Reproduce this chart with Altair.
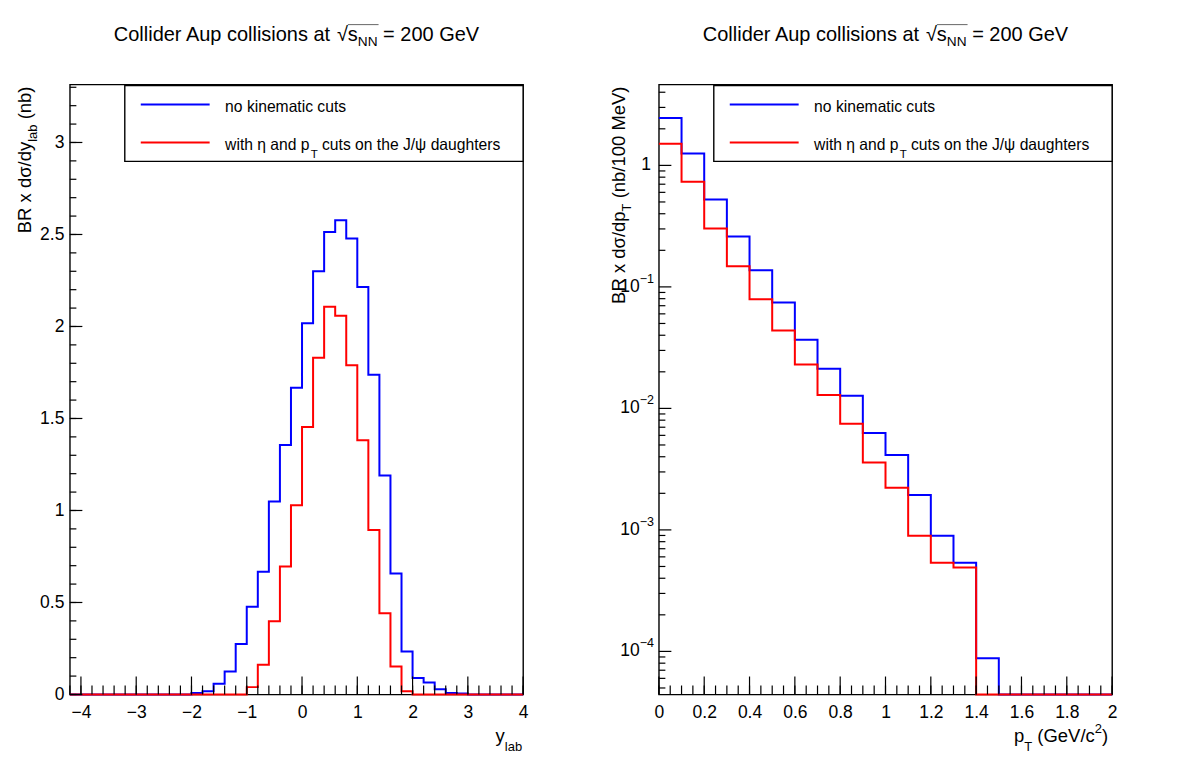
import numpy as np
import pandas as pd
import altair as alt

FONT = "Liberation Sans"
BLUE = "#0000ff"
RED = "#ff0000"

# plot-area size of each panel (pixels)
W, H = 454, 611

# ---------------------------------------------------------------
# J/psi rapidity spectrum: 41 bins of width 0.2 from -4.2 to 4.0
# ---------------------------------------------------------------
Y_LOW, Y_BIN = -4.2, 0.2
dsig_dy_all = [
    0, 0, 0, 0, 0, 0, 0, 0, 0, 0, 0,
    0.008, 0.018, 0.058, 0.125, 0.275, 0.477, 0.667, 1.049, 1.356, 1.667,
    2.017, 2.300, 2.514, 2.577, 2.478, 2.215, 1.738, 1.190, 0.658, 0.233,
    0.089, 0.065, 0.029, 0.008, 0.006, 0, 0, 0, 0, 0,
]
dsig_dy_cut = [
    0, 0, 0, 0, 0, 0, 0, 0, 0, 0, 0,
    0, 0, 0, 0, 0, 0.040, 0.161, 0.398, 0.695, 1.029,
    1.454, 1.830, 2.107, 2.058, 1.789, 1.382, 0.894, 0.441, 0.152, 0.018,
    0, 0, 0, 0, 0, 0, 0, 0, 0, 0,
]

# ---------------------------------------------------------------
# J/psi pT spectrum: 20 bins of width 0.1 from 0 to 2 GeV/c
# ---------------------------------------------------------------
PT_LOW, PT_BIN = 0.0, 0.1
dsig_dpt_all = [
    2.45, 1.25, 0.523, 0.260, 0.137, 0.0744, 0.0368, 0.0212, 0.0127, 0.00628,
    0.00414, 0.00194, 0.000893, 0.000537, 0.0000877, 0, 0, 0, 0, 0,
]
dsig_dpt_cut = [
    1.51, 0.735, 0.303, 0.148, 0.0792, 0.0438, 0.0230, 0.0129, 0.00748, 0.00358,
    0.00222, 0.000893, 0.000537, 0.000491, 0, 0, 0, 0, 0, 0,
]

# axis ranges and tick marks
Y_DOMAIN_X, Y_DOMAIN_Y = [-4.2, 4.0], [0, 3.315]
PT_DOMAIN_X, PT_DOMAIN_Y = [0, 2], [4.42e-5, 4.63]
y_major_x = [-4, -3, -2, -1, 0, 1, 2, 3, 4]
y_minor_x = [round(-4.2 + 0.2 * i, 2) for i in range(42)]
y_major_y = [0, 0.5, 1, 1.5, 2, 2.5, 3]
y_minor_y = [round(0.1 * i, 2) for i in range(34)]
pt_major_x = [0, 0.2, 0.4, 0.6, 0.8, 1, 1.2, 1.4, 1.6, 1.8, 2]
pt_minor_x = [round(0.05 * i, 2) for i in range(41)]
pt_decades = [1e-4, 1e-3, 1e-2, 1e-1, 1]
pt_decade_exp = ["−4", "−3", "−2", "−1"]
pt_minor_y = [m * 10.0 ** e for e in range(-5, 1) for m in range(2, 10)
              if PT_DOMAIN_Y[0] <= m * 10.0 ** e <= PT_DOMAIN_Y[1]]

LEGEND = ["no kinematic cuts", "with η and p", "T", " cuts on the J/ψ daughters"]

# approximate advance widths (1/1000 em) of the sans font, used to chain text pieces
ADV = {' ': 278, '(': 333, ')': 333, '/': 278, '.': 278, '=': 584, '−': 584,
       'A': 667, 'B': 667, 'C': 722, 'G': 778, 'J': 500, 'M': 833, 'N': 722,
       'R': 722, 'T': 611, 'V': 667, 'a': 556, 'b': 556, 'c': 500, 'd': 556,
       'e': 556, 'g': 556, 'h': 556, 'i': 222, 'k': 500, 'l': 222, 'm': 833,
       'n': 556, 'o': 556, 'p': 556, 'r': 333, 's': 500, 't': 278, 'u': 556,
       'w': 722, 'x': 500, 'y': 500, 'η': 556, 'σ': 600, 'ψ': 700, '√': 549}


def tw(s, size):
    return sum(ADV.get(c, 556) for c in s) / 1000.0 * size


ONE = pd.DataFrame({"k": [0]})


def txt(s, x, y, size, align="left", angle=0, baseline="alphabetic", color="black"):
    # SVG drops leading blanks, so a left-aligned piece is shifted by their width instead
    if align == "left" and angle == 0:
        lead = len(s) - len(s.lstrip(" "))
        x = x + tw(" " * lead, size)
        s = s.lstrip(" ")
    return alt.Chart(ONE).mark_text(
        text=s, font=FONT, fontSize=size, align=align, baseline=baseline,
        angle=angle, color=color,
    ).encode(x=alt.value(x), y=alt.value(y))


def step_table(lo, width, values):
    edges = np.round(lo + width * np.arange(len(values) + 1), 3)
    return pd.DataFrame({"x": edges, "v": list(values) + [values[-1]]})


def hist(df, color, xs, ys, xa, ya):
    return alt.Chart(df).mark_line(
        interpolate="step-after", color=color, strokeWidth=2, strokeJoin="miter"
    ).encode(x=alt.X("x:Q", scale=xs, axis=xa), y=alt.Y("v:Q", scale=ys, axis=ya))


def xticks(vals, xs, xa, length):
    return alt.Chart(pd.DataFrame({"t": vals})).mark_rule(color="black", strokeWidth=1.2).encode(
        x=alt.X("t:Q", scale=xs, axis=xa), y=alt.value(H), y2=alt.value(H - length))


def yticks(vals, ys, ya, length):
    return alt.Chart(pd.DataFrame({"t": vals})).mark_rule(color="black", strokeWidth=1.2).encode(
        y=alt.Y("t:Q", scale=ys, axis=ya), x=alt.value(0), x2=alt.value(length))


def legend_layers():
    fs, sub = 15.7, 11.5
    x0 = 155.5
    wa = tw(LEGEND[1], fs)
    wt = tw(LEGEND[2], sub)
    return [
        alt.Chart(ONE).mark_rect(fill="white", stroke="black", strokeWidth=1.4).encode(
            x=alt.value(55), x2=alt.value(W), y=alt.value(1), y2=alt.value(77)),
        alt.Chart(ONE).mark_rule(color=BLUE, strokeWidth=2).encode(
            x=alt.value(71), x2=alt.value(140), y=alt.value(20)),
        alt.Chart(ONE).mark_rule(color=RED, strokeWidth=2).encode(
            x=alt.value(71), x2=alt.value(140), y=alt.value(58)),
        txt(LEGEND[0], x0, 28, fs),
        txt(LEGEND[1], x0, 66, fs),
        txt(LEGEND[2], x0 + wa + 1, 74, sub),
        txt(LEGEND[3], x0 + wa + wt + 1, 66, fs),
    ]


def title_layers():
    fs = 20
    sub = 13.7
    parts = ["Collider Aup collisions at ", "√", "s", "NN", " = 200 GeV"]
    widths = [tw(parts[0], fs), tw(parts[1], fs), tw(parts[2], fs),
              tw(parts[3], sub), tw(parts[4], fs)]
    x = W / 2 - sum(widths) / 2
    base = -44
    out = []
    pos = []
    for i, p in enumerate(parts):
        pos.append(x)
        if i == 3:
            out.append(txt(p, x, base + 5, sub))
        else:
            out.append(txt(p, x, base, fs))
        x += widths[i]
    out.append(alt.Chart(ONE).mark_rule(color="#666666", strokeWidth=1).encode(
        x=alt.value(pos[2]), x2=alt.value(pos[3] + widths[3] + 1),
        y=alt.value(base - 16)))
    return out


def extent_marker(xpix):
    # white vertical hairline fixing the outer extent of the drawing
    return alt.Chart(ONE).mark_rule(color="white", strokeWidth=1).encode(
        x=alt.value(xpix), y=alt.value(-82.5), y2=alt.value(H + 85.5))


AX_FS = 17.5
TITLE_FS = 18.5
SUB_FS = 13

# ---------------- left panel: rapidity ----------------
xs_l = alt.Scale(domain=Y_DOMAIN_X, nice=False, zero=False)
ys_l = alt.Scale(domain=Y_DOMAIN_Y, nice=False, zero=False)
xa_l = alt.Axis(values=y_major_x, format="~g", ticks=False, tickSize=0, domain=False,
                grid=False, title=None, labelFont=FONT, labelFontSize=AX_FS,
                labelPadding=9, labelColor="black", labelOverlap=False, labelFlush=False)
ya_l = alt.Axis(values=y_major_y, format="~g", ticks=False, tickSize=0, domain=False,
                grid=False, title=None, labelFont=FONT, labelFontSize=AX_FS,
                labelPadding=6, labelColor="black", labelOverlap=False, labelFlush=False)

df_y_all = step_table(Y_LOW, Y_BIN, dsig_dy_all)
df_y_cut = step_table(Y_LOW, Y_BIN, dsig_dy_cut)

# rotated y title: "BR x dσ/dy_lab (nb)" read bottom to top, ending at the frame top
wc = tw(" (nb)", TITLE_FS)
wb = tw("lab", SUB_FS)
ytitle_l = [
    txt(" (nb)", -38.5, 2, TITLE_FS, align="right", angle=270),
    txt("lab", -33, 2 + wc, SUB_FS, align="right", angle=270),
    txt("BR x dσ/dy", -38.5, 2 + wc + wb, TITLE_FS, align="right", angle=270),
]
xtitle_l = [
    txt("lab", W - 1, H + 57, SUB_FS, align="right"),
    txt("y", W - 1 - tw("lab", SUB_FS), H + 48, TITLE_FS, align="right"),
]

left = alt.layer(
    extent_marker(-68.5),
    hist(df_y_all, BLUE, xs_l, ys_l, xa_l, ya_l),
    hist(df_y_cut, RED, xs_l, ys_l, xa_l, ya_l),
    xticks(y_minor_x, xs_l, xa_l, 9),
    xticks(y_major_x, xs_l, xa_l, 18),
    yticks(y_minor_y, ys_l, ya_l, 6.5),
    yticks(y_major_y, ys_l, ya_l, 12.5),
    *legend_layers(),
    *title_layers(),
    *ytitle_l,
    *xtitle_l,
).properties(width=W, height=H)

# ---------------- right panel: transverse momentum ----------------
xs_r = alt.Scale(domain=PT_DOMAIN_X, nice=False, zero=False)
ys_r = alt.Scale(type="log", domain=PT_DOMAIN_Y, nice=False, clamp=True)
xa_r = alt.Axis(values=pt_major_x, format="~g", ticks=False, tickSize=0, domain=False,
                grid=False, title=None, labelFont=FONT, labelFontSize=AX_FS,
                labelPadding=9, labelColor="black", labelOverlap=False, labelFlush=False)

df_pt_all = step_table(PT_LOW, PT_BIN, dsig_dpt_all)
df_pt_cut = step_table(PT_LOW, PT_BIN, dsig_dpt_cut)

SUP_FS = 12.5
dec_df = pd.DataFrame({"t": pt_decades[:-1], "e": pt_decade_exp})
one_df = pd.DataFrame({"t": [pt_decades[-1]]})
w_exp = tw("−1", SUP_FS)
ylabels_r = [
    alt.Chart(one_df).mark_text(text="1", font=FONT, fontSize=AX_FS, align="right",
                                baseline="middle").encode(
        x=alt.value(-8), y=alt.Y("t:Q", scale=ys_r, axis=None)),
    alt.Chart(dec_df).mark_text(text="10", font=FONT, fontSize=AX_FS, align="right",
                                baseline="middle").encode(
        x=alt.value(-5 - w_exp), y=alt.Y("t:Q", scale=ys_r, axis=None)),
    alt.Chart(dec_df).mark_text(font=FONT, fontSize=SUP_FS, align="right",
                                baseline="middle", dy=-8).encode(
        x=alt.value(-5), y=alt.Y("t:Q", scale=ys_r, axis=None), text="e:N"),
]

wc_r = tw(" (nb/100 MeV)", TITLE_FS)
wt_r = tw("T", SUB_FS)
ytitle_r = [
    txt(" (nb/100 MeV)", -33.5, 2, TITLE_FS, align="right", angle=270),
    txt("T", -28, 2 + wc_r, SUB_FS, align="right", angle=270),
    txt("BR x dσ/dp", -33.5, 2 + wc_r + wt_r, TITLE_FS, align="right", angle=270),
]
xr_end = W - 4
w_par = tw(")", TITLE_FS)
w_two = tw("2", SUB_FS)
w_gev = tw(" (GeV/c", TITLE_FS)
w_T = tw("T", SUB_FS)
xtitle_r = [
    txt(")", xr_end, H + 48, TITLE_FS, align="right"),
    txt("2", xr_end - w_par, H + 39, SUB_FS, align="right"),
    txt(" (GeV/c", xr_end - w_par - w_two, H + 48, TITLE_FS, align="right"),
    txt("T", xr_end - w_par - w_two - w_gev, H + 57, SUB_FS, align="right"),
    txt("p", xr_end - w_par - w_two - w_gev - w_T, H + 48, TITLE_FS, align="right"),
]

right = alt.layer(
    extent_marker(522.5),
    hist(df_pt_all, BLUE, xs_r, ys_r, xa_r, None),
    hist(df_pt_cut, RED, xs_r, ys_r, xa_r, None),
    xticks(pt_minor_x, xs_r, xa_r, 9),
    xticks(pt_major_x, xs_r, xa_r, 18),
    yticks(pt_minor_y, ys_r, None, 6.5),
    yticks(pt_decades, ys_r, None, 12.5),
    *ylabels_r,
    *legend_layers(),
    *title_layers(),
    *ytitle_r,
    *xtitle_r,
).properties(width=W, height=H)

chart = alt.hconcat(left, right, spacing=136, bounds="flush").properties(
    padding=0, background="white"
).configure_view(stroke="black", strokeWidth=1.4)

chart.save("out.html", embed_options={"renderer": "svg", "actions": False})
